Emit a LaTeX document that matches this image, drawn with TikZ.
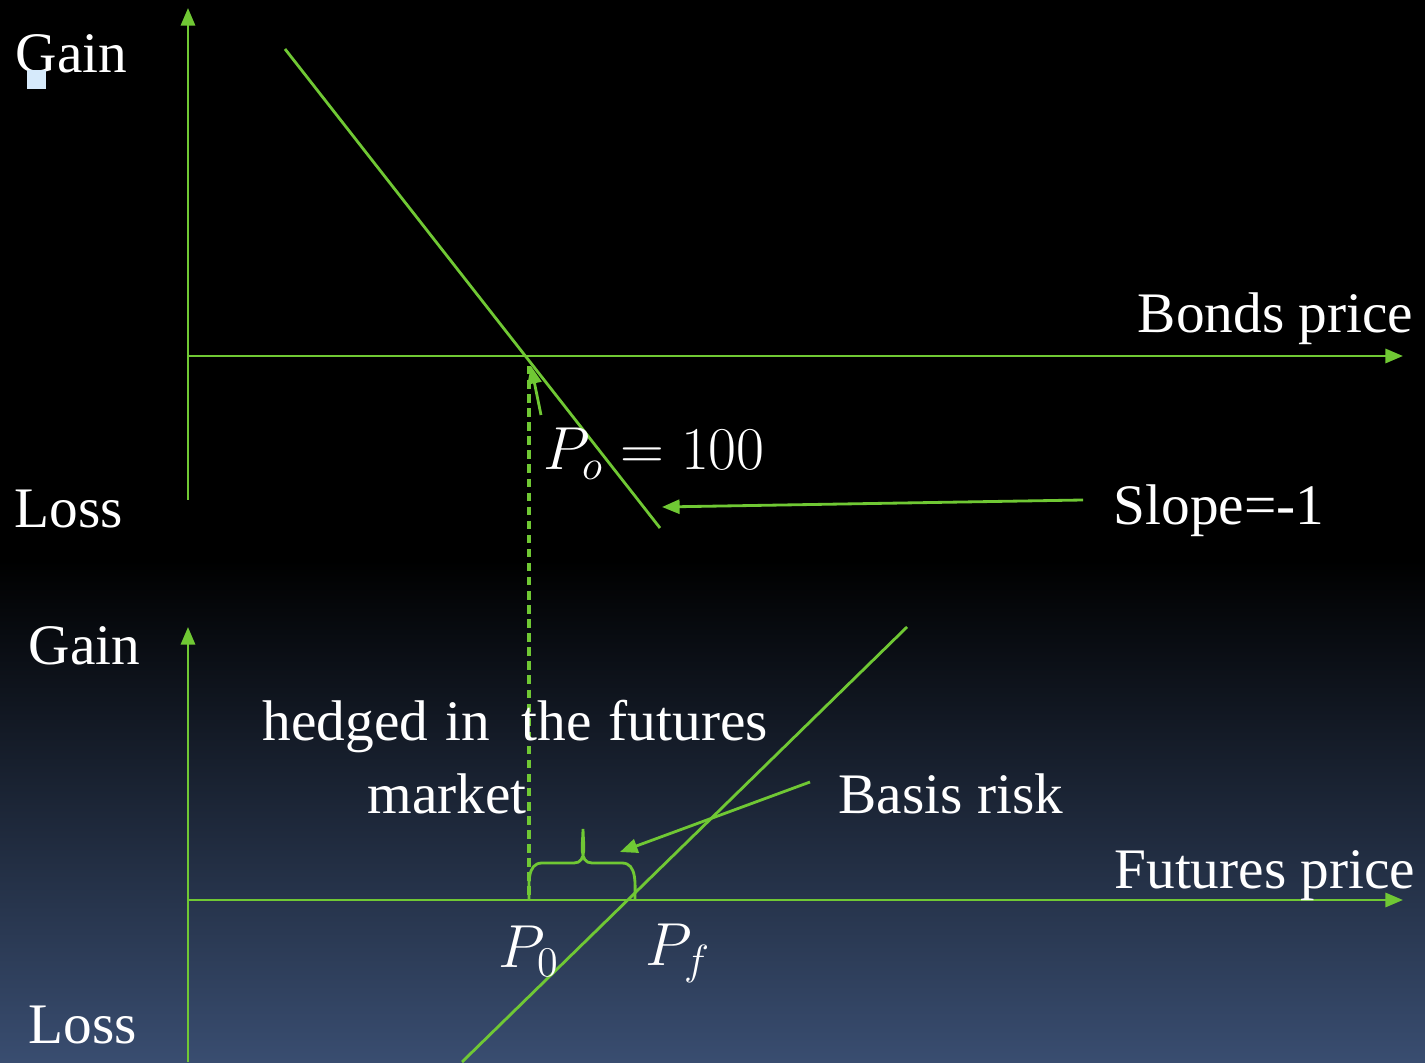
\documentclass[tikz,border=0pt]{standalone}
\usepackage{fontspec}
\setmainfont{Liberation Serif}
\usepackage{xcolor}
\usetikzlibrary{arrows.meta}
\definecolor{lgreen}{RGB}{112,200,52}
\definecolor{bgblue}{RGB}{57,77,112}
\definecolor{sqblue}{RGB}{214,234,251}
\begin{document}
\begin{tikzpicture}[x=0.01cm,y=-0.01cm,>={Triangle[length=5pt,width=4pt]},
  axis/.style={lgreen,line width=0.8pt},
  lbl/.style={white,inner sep=0pt,anchor=base west,font=\fontsize{16.3}{20}\selectfont}]
\fill[black](0,0)rectangle(1425,1062);
\shade[top color=black,bottom color=bgblue](0,560)rectangle(1425,1062);
%upper panel: bonds
\coordinate(O1)at(188,356);
\coordinate(Y1top)at(188,8);
\coordinate(Y1bot)at(188,500);
\coordinate(X1end)at(1403,356);
\draw[axis,->](Y1bot)--(Y1top);
\draw[axis,->](O1)--(X1end);
\draw[axis](285,49)--(660,528);
\node[lbl](gain1)at(15,73){Gain};
\fill[sqblue](27,70)rectangle(46,89);
\node[lbl](loss1)at(14,528){Loss};
\node[lbl,anchor=base east](bonds)at(1414,333){Bonds price};
\node[lbl](slope)at(1113,525){Slope=-1};
\node[lbl,font=\fontsize{17}{20}\selectfont](po)at(543,470){$P_o = 100$};
\coordinate(sl)at(1083,500);
\coordinate(slt)at(662,507);
\draw[axis,->](sl)--(slt);
\coordinate(pa)at(541,415);
\coordinate(pt)at(531,366);
\draw[axis,->](pa)--(pt);
%lower panel: futures
\coordinate(O2)at(188,900);
\coordinate(Y2top)at(188,627);
\coordinate(Y2bot)at(188,1062);
\coordinate(X2end)at(1403,900);
\draw[axis,->](Y2bot)--(Y2top);
\draw[axis,->](O2)--(X2end);
\draw[axis](462,1062)--(907,627);
\draw[axis,line width=1pt,dash pattern=on 2.4pt off 1.6pt](529,366)--(529,900);
\node[lbl](gain2)at(28,665){Gain};
\node[lbl](loss2)at(28,1043){Loss};
\node[lbl,anchor=base east](fut)at(1416,888){Futures price};
\node[lbl](basis)at(838,813){Basis risk};
\node[lbl](hedge)at(262,740){hedged\hspace{0.3em}in\hspace{0.55em}the\hspace{0.3em}futures};
\node[lbl](market)at(367,813){market};
\node[lbl,font=\fontsize{17}{20}\selectfont](p0)at(498,967){$P_0$};
\node[lbl,font=\fontsize{17}{20}\selectfont](pf)at(645,965){$P_f$};
\draw[axis](529,900)to[out=90,in=180](542,863)--(574,863)to[out=0,in=-90](583,829)
  to[out=-90,in=180](592,863)--(622,863)to[out=0,in=90](635,900);
\coordinate(ba)at(810,782);
\coordinate(bt)at(620,852);
\draw[axis,->](ba)--(bt);
\end{tikzpicture}
\end{document}
